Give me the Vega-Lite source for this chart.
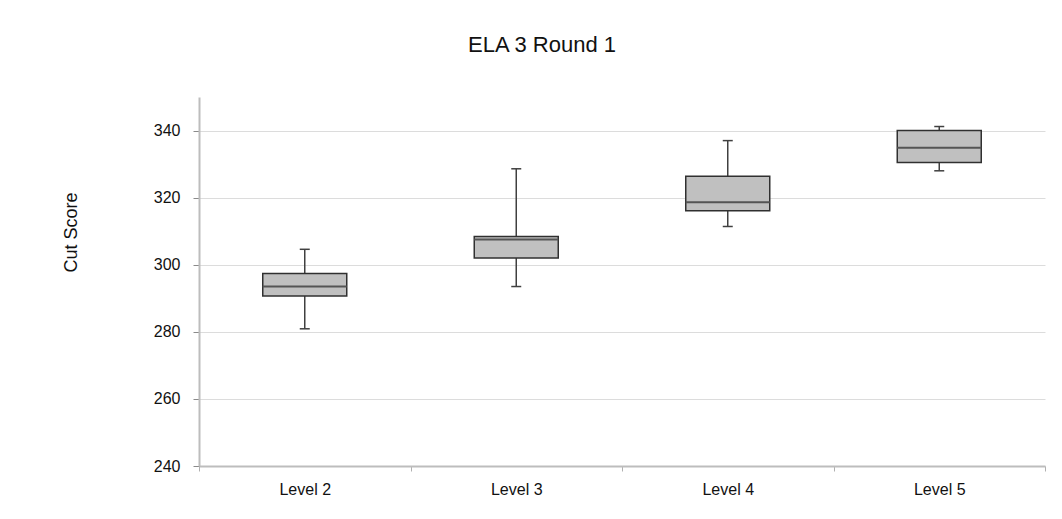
{
  "$schema": "https://vega.github.io/schema/vega-lite/v6.json",
  "autosize": "none",
  "width": 846,
  "height": 369,
  "padding": {"left": 199, "top": 97, "right": 17, "bottom": 53},
  "background": "white",
  "title": {
    "text": "ELA 3 Round 1",
    "font": "Liberation Sans",
    "fontSize": 22,
    "fontWeight": "normal",
    "color": "#111",
    "anchor": "middle",
    "dx": -80,
    "offset": 40
  },
  "data": {
    "values": [
      {"level": "Level 2", "min": 280.9, "q1": 290.7, "median": 293.5, "q3": 297.4, "max": 304.6},
      {"level": "Level 3", "min": 293.5, "q1": 302.0, "median": 307.5, "q3": 308.4, "max": 328.6},
      {"level": "Level 4", "min": 311.4, "q1": 316.1, "median": 318.6, "q3": 326.4, "max": 337.0},
      {"level": "Level 5", "min": 328.0, "q1": 330.5, "median": 334.9, "q3": 340.0, "max": 341.2}
    ]
  },
  "encoding": {
    "x": {
      "field": "level",
      "type": "nominal",
      "sort": null,
      "scale": {"paddingInner": 0, "paddingOuter": 0},
      "axis": {
        "title": null,
        "labelAngle": 0,
        "labelFont": "Liberation Sans",
        "labelFontSize": 16,
        "labelColor": "#111",
        "labelPadding": 10,
        "tickBand": "extent",
        "tickSize": 5,
        "tickColor": "#b0b0b0",
        "domainColor": "#bdbdbd",
        "domainWidth": 2,
        "grid": false
      }
    }
  },
  "layer": [
    {
      "mark": {"type": "rule", "color": "#404040", "strokeWidth": 1.5},
      "encoding": {
        "y": {
          "field": "min",
          "type": "quantitative",
          "scale": {"domain": [240, 350], "nice": false, "zero": false},
          "axis": {
            "title": "Cut Score",
            "titleFont": "Liberation Sans",
            "titleFontSize": 18,
            "titleFontWeight": "normal",
            "titleColor": "#111",
            "titleAngle": -90,
            "titleAlign": "center",
            "titleBaseline": "middle",
            "titleX": -128,
            "titleY": 135,
            "values": [240, 260, 280, 300, 320, 340],
            "labelFont": "Liberation Sans",
            "labelFontSize": 16,
            "labelColor": "#111",
            "labelPadding": 13,
            "tickSize": 6,
            "tickColor": "#8a8a8a",
            "domainColor": "#bdbdbd",
            "domainWidth": 2,
            "grid": true,
            "gridColor": "#dcdcdc",
            "gridWidth": 1
          }
        },
        "y2": {"field": "max"}
      }
    },
    {
      "mark": {"type": "bar", "size": 84, "fill": "#c0c0c0", "stroke": "#303030", "strokeWidth": 1.5},
      "encoding": {
        "y": {"field": "q1", "type": "quantitative"},
        "y2": {"field": "q3"}
      }
    },
    {
      "mark": {"type": "tick", "size": 84, "thickness": 2, "color": "#555555"},
      "encoding": {"y": {"field": "median", "type": "quantitative"}}
    },
    {
      "mark": {"type": "tick", "size": 10, "thickness": 1.5, "color": "#404040"},
      "encoding": {"y": {"field": "min", "type": "quantitative"}}
    },
    {
      "mark": {"type": "tick", "size": 10, "thickness": 1.5, "color": "#404040"},
      "encoding": {"y": {"field": "max", "type": "quantitative"}}
    }
  ],
  "config": {
    "view": {"stroke": null},
    "tick": {"opacity": 1},
    "bar": {"opacity": 1}
  }
}
